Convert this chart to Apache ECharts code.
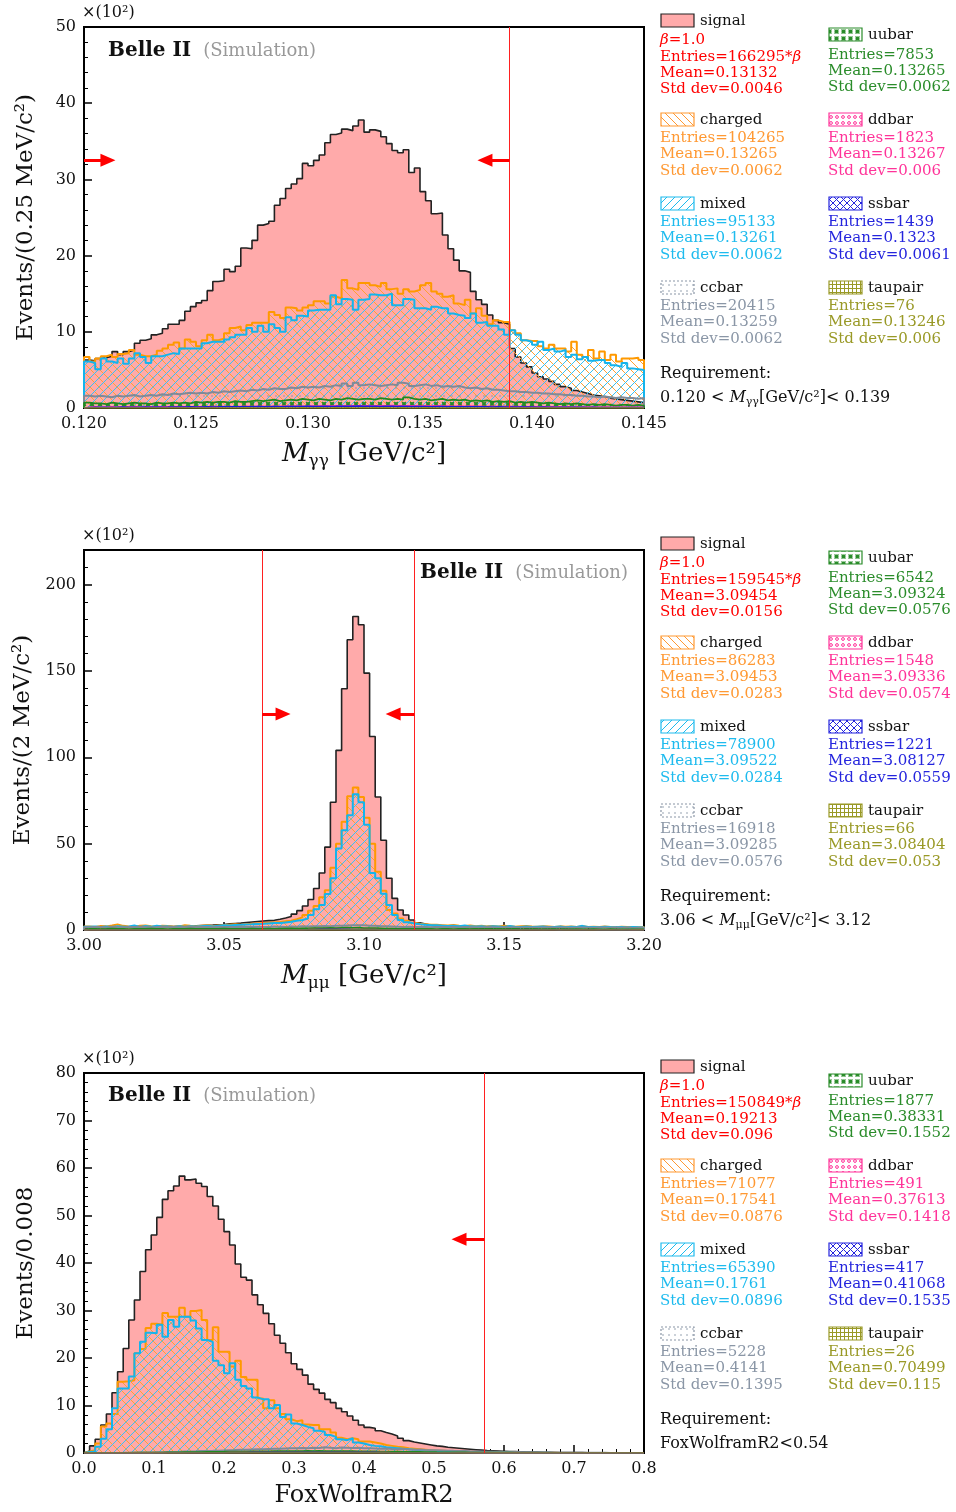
<!DOCTYPE html>
<html><head><meta charset="utf-8">
<script src="https://cdn.jsdelivr.net/npm/echarts@6/dist/echarts.min.js"></script>
<style>html,body{margin:0;padding:0;background:#fff}#c{width:956px;height:1512px}</style>
</head><body><div id="c"></div>
<script>
// ---------------- DATA ----------------
const binStart = [0.120, 3.00, 0.0];
const binWidth = [0.00025, 0.002, 0.008];
const xMin = [0.120, 3.00, 0.0], xMax = [0.145, 3.20, 0.8], xInt = [0.005, 0.05, 0.1], xDec = [3, 2, 1];
const yMax = [50, 220, 80], yInt = [10, 50, 10];

// Panel 1: M_gamma_gamma (x10^2 events / 0.25 MeV)
const signal1 = [6.3,6.2,6.5,6.6,6.8,7.4,7.0,7.4,7.6,8.5, 8.9,9.1,9.6,9.8,10.4,11.0,11.0,11.5,12.7,13.3,
 13.8,14.1,15.4,16.6,16.7,18.2,17.9,18.6,21.0,20.9, 22.0,24.0,24.2,24.5,26.6,27.5,28.8,29.4,30.1,32.1,
 31.8,32.5,33.2,34.8,35.9,36.1,36.6,36.4,37.0,37.8, 36.2,36.5,36.3,35.6,34.7,33.8,33.5,33.9,30.9,31.5,
 28.4,27.2,25.5,25.6,22.7,20.9,19.4,18.0,17.8,15.3, 14.2,13.6,12.2,11.5,11.2,11.0,7.8,6.7,5.9,5.4,
 4.6,4.1,3.8,3.5,3.1,2.8,2.6,2.3,2.1,1.9, 1.7,1.6,1.5,1.3,1.2,1.1,1.0,0.9,0.8,0.7];
const charged1 = [6.7,6.1,6.5,6.8,7.0,6.7,7.1,7.2,7.6,7.0, 6.8,6.8,7.0,7.5,7.8,8.3,8.6,7.8,9.0,8.7,
 8.1,8.9,9.6,8.9,9.1,9.8,10.5,10.7,10.2,10.9, 11.2,11.2,11.2,12.6,12.2,11.8,13.2,13.1,12.8,13.2,
 13.5,14.0,14.0,13.7,14.6,14.4,16.8,15.7,15.5,16.4, 16.4,16.1,15.9,16.4,15.6,15.7,15.0,15.6,15.3,15.5,
 16.1,16.4,15.3,15.0,14.6,14.8,13.7,13.5,14.2,12.4, 13.1,12.1,11.0,11.5,11.3,11.3,10.2,9.8,8.9,8.8,
 8.8,8.1,7.8,8.3,7.8,7.8,7.4,8.7,7.0,6.7, 7.6,6.5,7.4,6.3,7.0,6.1,6.5,6.5,6.6,6.3];
const mixed1 = [6.1,5.9,5.1,6.5,6.1,5.9,6.5,5.8,6.5,7.2, 6.7,5.9,6.8,6.8,7.0,7.2,7.1,7.8,7.8,7.8,
 7.8,8.5,8.7,8.7,8.7,9.0,9.3,9.6,9.6,10.5, 10.0,10.8,10.0,11.0,10.5,10.0,11.9,11.5,12.1,12.0,
 12.8,12.9,12.9,12.9,14.8,13.6,14.3,14.2,12.9,14.2, 14.3,14.9,14.8,14.8,15.0,13.5,13.5,14.3,14.2,13.1,
 13.1,12.9,13.3,13.1,13.1,12.4,12.2,12.1,11.8,12.4, 11.2,11.3,10.8,10.8,10.3,9.6,10.2,9.6,8.9,8.7,
 8.3,8.7,7.6,7.8,7.4,7.6,6.7,7.0,6.4,6.7, 6.2,6.3,6.3,5.9,5.6,5.4,5.9,5.2,5.1,5.0];
const ccbar1 = [1.6,1.5,1.6,1.5,1.4,1.6,1.5,1.6,1.7,1.5, 1.6,1.7,1.6,1.8,1.7,1.9,1.8,1.9,2.0,1.9,
 2.0,1.9,2.1,2.0,2.2,2.1,2.2,2.3,2.2,2.4, 2.3,2.5,2.4,2.6,2.5,2.5,2.7,2.6,2.8,2.7,
 2.8,2.7,2.9,2.8,3.0,2.9,3.2,2.9,3.3,3.0, 3.1,3.0,2.9,3.0,3.1,3.0,3.3,3.2,2.9,3.0,
 3.1,2.9,3.0,2.8,2.9,2.8,2.9,2.7,2.6,2.7, 2.5,2.6,2.4,2.4,2.3,2.2,2.2,2.1,2.1,2.0,
 2.0,1.9,1.9,1.8,1.8,1.7,1.7,1.6,1.6,1.5, 1.5,1.4,1.5,1.4,1.3,1.4,1.3,1.3,1.2,1.3];
const uubar1 = [0.7,0.6,0.6,0.5,0.7,0.6,0.5,0.6,0.7,0.6, 0.6,0.5,0.7,0.6,0.6,0.7,0.6,0.7,0.6,0.8,
 0.7,0.8,0.7,0.8,0.8,0.7,0.9,0.8,0.8,0.9, 1.0,0.9,1.0,1.1,0.9,1.0,1.1,1.0,1.2,1.1,
 1.0,1.2,1.1,1.0,1.2,1.1,1.3,1.2,1.1,1.2, 1.2,1.1,1.3,1.2,1.1,1.2,1.1,1.4,1.2,1.1,
 1.2,1.0,1.1,1.2,1.0,1.1,1.0,1.1,0.9,1.0, 0.9,1.0,0.8,0.9,0.8,0.9,0.7,0.8,0.7,0.8,
 0.7,0.6,0.7,0.6,0.5,0.6,0.5,0.6,0.5,0.4, 0.5,0.4,0.5,0.4,0.3,0.4,0.4,0.3,0.4,0.3];
const ddbar1 = [0.1,0.15,0.1,0.12,0.15,0.1,0.14,0.12,0.15,0.13, 0.14,0.16,0.12,0.15,0.17,0.14,0.16,0.18,0.15,0.17,
 0.16,0.18,0.2,0.17,0.19,0.21,0.18,0.2,0.22,0.2, 0.21,0.23,0.2,0.24,0.22,0.25,0.23,0.26,0.24,0.25,
 0.27,0.25,0.28,0.26,0.3,0.27,0.29,0.31,0.28,0.3, 0.29,0.31,0.28,0.3,0.32,0.29,0.3,0.28,0.31,0.27,
 0.29,0.26,0.28,0.25,0.27,0.24,0.26,0.23,0.25,0.22, 0.23,0.21,0.22,0.2,0.21,0.19,0.2,0.18,0.17,0.18,
 0.16,0.17,0.15,0.16,0.14,0.15,0.13,0.14,0.12,0.13, 0.12,0.11,0.12,0.1,0.11,0.1,0.09,0.1,0.09,0.08];
const ssbar1 = [0.08,0.1,0.09,0.11,0.08,0.1,0.12,0.09,0.11,0.1, 0.12,0.1,0.13,0.11,0.12,0.14,0.12,0.13,0.15,0.13,
 0.14,0.16,0.14,0.15,0.17,0.15,0.16,0.18,0.16,0.17, 0.19,0.17,0.18,0.2,0.18,0.19,0.21,0.19,0.2,0.22,
 0.2,0.21,0.23,0.21,0.22,0.24,0.22,0.23,0.25,0.23, 0.22,0.24,0.21,0.23,0.22,0.2,0.22,0.21,0.19,0.21,
 0.2,0.18,0.2,0.19,0.17,0.18,0.16,0.18,0.17,0.15, 0.16,0.15,0.14,0.15,0.13,0.14,0.13,0.12,0.13,0.12,
 0.11,0.12,0.11,0.1,0.11,0.1,0.09,0.1,0.09,0.08, 0.09,0.08,0.08,0.07,0.08,0.07,0.06,0.07,0.06,0.06];
const taupair1 = [0,0.01,0,0,0.01,0,0,0,0.01,0, 0,0,0.01,0,0.01,0,0,0.01,0,0,
 0.01,0,0,0.01,0,0.01,0,0,0.02,0, 0.01,0,0.01,0,0.02,0.01,0,0.01,0.02,0.01,
 0.01,0.02,0,0.01,0.02,0.01,0.02,0.01,0,0.02, 0.01,0.02,0.01,0.02,0,0.01,0.02,0.01,0.01,0,
 0.02,0.01,0,0.01,0.01,0.02,0,0.01,0,0.01, 0.01,0,0.01,0,0.01,0,0,0.01,0,0.01,
 0,0.01,0,0,0.01,0,0,0.01,0,0, 0.01,0,0,0,0.01,0,0,0,0.01,0];

// Panel 2: M_mumu (x10^2 events / 2 MeV)
const signal2 = [1.2,1.4,1.3,1.5,1.4,1.6,1.5,1.7,1.6,1.8, 1.7,1.9,1.9,2.0,2.1,2.0,2.2,2.3,2.4,2.5,
 2.6,2.7,2.8,3.0,3.1,3.6,3.8,4.0,4.3,4.6, 4.9,5.2,5.4,5.6,6.2,6.9,7.8,9.2,11.2,13.9,
 17.7,24.0,33.0,48.0,74.0,104.0,139.7,168.0,181.5,176.7, 148.7,112.0,77.0,52.0,30.0,18.3,11.6,8.7,5.8,4.2,
 3.4,2.8,2.4,2.1,1.9,1.7,1.6,1.4,1.3,1.2, 1.1,1.1,1.0,0.9,0.9,0.8,0.8,0.7,0.7,0.7,
 0.6,0.6,0.6,0.5,0.5,0.5,0.5,0.4,0.4,0.4, 0.4,0.4,0.3,0.3,0.3,0.3,0.3,0.3,0.2,0.2];
const charged2 = [2.0,1.8,2.3,2.1,2.6,3.2,2.4,2.0,1.9,2.4, 2.6,2.2,2.0,2.5,2.3,1.9,2.1,2.7,2.4,2.2,
 2.5,2.8,2.3,2.6,2.9,3.1,3.3,3.0,3.4,3.6, 3.8,4.0,4.2,4.4,4.6,5.0,5.4,6.2,7.3,8.7,
 11.2,13.9,19.0,23.0,36.0,50.0,62.6,77.5,82.5,77.0, 65.0,50.0,33.7,22.7,11.6,9.6,6.7,5.4,4.2,3.6,
 3.4,3.1,3.0,2.8,2.6,2.9,2.5,2.3,2.6,2.2, 2.4,2.1,2.3,2.0,2.5,2.2,1.9,2.1,2.3,2.0,
 1.9,2.2,2.0,1.8,2.1,1.9,2.0,1.7,2.2,1.8, 1.9,1.7,2.0,1.8,1.6,1.9,1.7,1.8,1.6,1.7];
const mixed2 = [1.9,2.0,1.7,2.1,1.8,2.2,1.9,2.0,2.6,1.8, 2.3,1.9,2.4,2.0,2.1,1.8,2.2,1.9,2.1,2.0,
 2.2,2.4,2.1,2.5,2.7,2.6,2.9,3.0,3.2,3.3, 3.5,3.6,3.8,4.0,4.0,4.4,4.8,5.4,5.8,6.7,
 8.7,12.0,14.5,20.8,29.9,47.2,57.8,66.5,78.6,74.0, 61.0,33.0,30.0,21.0,14.5,8.7,5.8,4.5,3.8,3.3,
 3.0,2.8,2.7,2.5,2.3,2.4,2.2,2.6,2.1,2.0, 2.2,1.9,2.1,2.0,1.8,2.3,1.9,1.7,2.0,1.8,
 1.9,2.0,1.7,1.8,2.0,1.6,1.9,1.8,2.4,1.7, 1.8,1.6,1.9,1.7,1.6,1.8,1.5,1.7,1.6,1.5];
const ccbar2 = [1.6,1.8,1.7,1.5,1.9,1.7,1.6,1.8,1.7,1.9, 1.8,1.6,1.7,1.9,1.8,1.7,1.6,1.8,1.9,1.7,
 1.7,1.8,1.6,1.9,1.7,1.8,1.7,1.9,1.8,1.8, 1.9,1.8,1.7,2.0,1.9,1.8,2.0,1.9,2.1,2.0,
 2.1,2.2,2.3,2.2,2.4,2.5,2.6,2.7,2.8,2.7, 2.5,2.4,2.2,2.1,2.0,1.9,1.8,1.9,1.7,1.8,
 1.7,1.6,1.8,1.7,1.6,1.7,1.5,1.7,1.6,1.6, 1.5,1.7,1.6,1.5,1.6,1.4,1.6,1.5,1.5,1.4,
 1.5,1.4,1.6,1.5,1.4,1.5,1.3,1.5,1.4,1.4, 1.3,1.5,1.4,1.3,1.4,1.3,1.4,1.2,1.3,1.3];
const uubar2 = [0.6,0.7,0.5,0.6,0.8,0.6,0.7,0.5,0.6,0.7, 0.6,0.8,0.7,0.6,0.5,0.7,0.6,0.7,0.8,0.6,
 0.7,0.6,0.7,0.6,0.8,0.7,0.6,0.7,0.6,0.8, 0.7,0.7,0.8,0.7,0.8,0.8,0.9,0.8,0.9,0.9,
 1.0,1.0,1.1,1.2,1.1,1.2,1.3,1.2,1.3,1.1, 1.0,1.0,0.9,0.8,0.8,0.7,0.7,0.6,0.7,0.6,
 0.6,0.7,0.5,0.6,0.6,0.5,0.7,0.6,0.5,0.6, 0.5,0.6,0.5,0.6,0.5,0.5,0.6,0.4,0.5,0.5,
 0.5,0.4,0.5,0.5,0.4,0.5,0.4,0.5,0.4,0.4, 0.5,0.4,0.4,0.5,0.4,0.3,0.4,0.4,0.3,0.4];
const ddbar2 = [0.1,0.15,0.12,0.1,0.18,0.14,0.12,0.16,0.1,0.13, 0.15,0.12,0.14,0.11,0.16,0.13,0.15,0.12,0.14,0.16,
 0.13,0.15,0.14,0.17,0.12,0.15,0.16,0.14,0.13,0.17, 0.15,0.16,0.18,0.15,0.17,0.19,0.18,0.2,0.21,0.22,
 0.24,0.25,0.27,0.28,0.3,0.29,0.31,0.3,0.28,0.26, 0.24,0.22,0.2,0.19,0.18,0.17,0.16,0.15,0.16,0.14,
 0.15,0.13,0.14,0.12,0.15,0.13,0.12,0.14,0.11,0.13, 0.12,0.11,0.13,0.12,0.1,0.12,0.11,0.1,0.12,0.1,
 0.11,0.1,0.12,0.09,0.1,0.11,0.09,0.1,0.08,0.1, 0.09,0.1,0.08,0.09,0.1,0.08,0.09,0.07,0.08,0.09];
const ssbar2 = [0.1,0.12,0.09,0.11,0.13,0.1,0.12,0.08,0.11,0.1, 0.12,0.09,0.11,0.13,0.1,0.12,0.11,0.09,0.12,0.1,
 0.11,0.13,0.1,0.12,0.14,0.11,0.12,0.13,0.12,0.14, 0.13,0.15,0.14,0.16,0.15,0.17,0.16,0.18,0.19,0.2,
 0.21,0.22,0.23,0.22,0.24,0.23,0.22,0.21,0.2,0.19, 0.18,0.17,0.16,0.15,0.14,0.13,0.12,0.13,0.11,0.12,
 0.1,0.11,0.12,0.1,0.09,0.11,0.1,0.12,0.09,0.1, 0.11,0.09,0.1,0.08,0.1,0.09,0.11,0.08,0.09,0.1,
 0.08,0.09,0.1,0.08,0.07,0.09,0.08,0.1,0.07,0.08, 0.09,0.07,0.08,0.06,0.08,0.07,0.08,0.06,0.07,0.07];
const taupair2 = [0.01,0,0,0.01,0,0,0.01,0,0,0, 0.01,0,0,0,0.01,0,0.01,0,0,0.01,
 0,0,0.01,0,0,0.01,0,0.01,0,0, 0.01,0,0.01,0,0.01,0.01,0,0.01,0.01,0.02,
 0.01,0.02,0.01,0.02,0.02,0.01,0.02,0.01,0.02,0.01, 0.01,0.01,0,0.01,0.01,0,0.01,0,0.01,0,
 0.01,0,0,0.01,0,0.01,0,0,0.01,0, 0,0.01,0,0,0.01,0,0,0,0.01,0,
 0,0.01,0,0,0,0.01,0,0,0,0.01, 0,0,0.01,0,0,0,0.01,0,0,0];

// Panel 3: FoxWolframR2 (x10^2 events / 0.008)
const signal3 = [0.4,1.5,2.9,5.9,8.2,12.7,17.1,22.0,28.0,32.2, 38.2,42.8,45.9,49.6,53.4,55.2,56.2,58.3,57.5,57.7,
 56.8,56.1,54.0,52.0,49.2,46.6,43.8,39.8,37.0,36.4, 33.3,31.2,29.4,27.2,24.8,23.1,21.1,18.8,17.6,16.4,
 14.5,13.4,12.6,11.3,10.6,9.4,8.7,7.8,6.9,5.9, 5.4,5.2,4.7,4.3,4.0,3.6,3.1,2.6,2.3,2.1,
 1.9,1.7,1.5,1.4,1.2,1.1,1.0,0.9,0.8,0.7, 0.6,0.5,0.45,0.4,0.35,0.3,0.3,0.25,0.2,0.2,
 0.2,0.15,0.15,0.1,0.1,0.1,0.1,0.08,0.08,0.06, 0.06,0.05,0.05,0.04,0.04,0.03,0.03,0.02,0.02,0.02];
const charged3 = [0.3,0.6,2.0,5.6,6.2,8.2,15.0,15.1,15.3,21.0, 21.9,26.3,27.2,27.0,29.5,28.7,28.7,30.6,28.7,29.9,
 30.1,28.0,23.8,26.5,21.3,21.3,18.2,19.4,16.0,15.4, 15.4,11.5,9.4,11.1,9.4,8.2,7.1,6.7,6.9,6.0,
 5.9,5.9,5.0,5.0,4.3,3.2,2.9,3.1,2.9,2.4, 2.4,2.2,2.0,1.7,1.5,1.3,1.2,1.0,0.9,0.8,
 0.7,0.6,0.5,0.5,0.4,0.3,0.3,0.2,0.2,0.2, 0.15,0.15,0.1,0.1,0.1,0.08,0.08,0.06,0.05,0.05,
 0.04,0.04,0.03,0.03,0.02,0.02,0.02,0.01,0.01,0.01, 0.01,0.01,0.01,0,0,0,0,0,0,0];
const mixed3 = [0.2,0.3,1.3,3.0,5.0,9.4,13.6,13.6,16.1,21.0, 23.4,25.3,25.2,27.0,24.5,28.0,26.6,28.7,28.7,27.9,
 26.2,23.8,23.4,19.4,18.5,16.8,18.9,15.4,14.1,13.6, 11.7,11.3,11.3,9.4,10.1,7.6,8.1,6.2,5.9,5.5,
 5.2,4.7,4.5,3.8,3.4,2.9,2.7,3.1,2.2,2.0, 1.7,1.5,1.4,1.2,1.1,1.0,0.9,0.8,0.7,0.6,
 0.5,0.5,0.4,0.4,0.3,0.3,0.2,0.2,0.2,0.15, 0.15,0.1,0.1,0.1,0.08,0.08,0.06,0.05,0.05,0.04,
 0.04,0.03,0.03,0.02,0.02,0.02,0.01,0.01,0.01,0.01, 0.01,0.01,0,0,0,0,0,0,0,0];
const ccbar3 = [0,0,0,0,0,0.02,0.03,0.05,0.06,0.08, 0.1,0.12,0.15,0.18,0.2,0.22,0.25,0.3,0.32,0.35,
 0.4,0.42,0.45,0.5,0.55,0.6,0.62,0.7,0.68,0.75, 0.8,0.78,0.85,0.9,0.88,0.95,1.0,0.98,1.05,1.0,
 1.1,1.05,1.2,1.1,1.0,1.15,1.1,1.05,1.1,1.0, 1.0,0.95,0.9,0.95,0.85,0.8,0.82,0.75,0.7,0.72,
 0.65,0.6,0.58,0.55,0.5,0.45,0.42,0.4,0.35,0.32, 0.3,0.28,0.25,0.22,0.2,0.18,0.16,0.15,0.13,0.12,
 0.1,0.1,0.08,0.08,0.07,0.06,0.05,0.05,0.04,0.04, 0.03,0.03,0.03,0.02,0.02,0.02,0.02,0.01,0.01,0.01];
const uubar3 = [0,0,0,0.01,0.01,0.02,0.03,0.04,0.05,0.06, 0.07,0.08,0.09,0.1,0.12,0.13,0.14,0.16,0.17,0.19,
 0.2,0.22,0.23,0.25,0.26,0.28,0.29,0.3,0.31,0.33, 0.34,0.35,0.36,0.37,0.38,0.39,0.4,0.41,0.4,0.42,
 0.41,0.42,0.4,0.41,0.39,0.4,0.38,0.37,0.36,0.35, 0.34,0.33,0.31,0.3,0.28,0.27,0.25,0.24,0.22,0.21,
 0.19,0.18,0.16,0.15,0.14,0.13,0.12,0.11,0.1,0.09, 0.08,0.07,0.07,0.06,0.05,0.05,0.04,0.04,0.03,0.03,
 0.03,0.02,0.02,0.02,0.02,0.01,0.01,0.01,0.01,0.01, 0.01,0.01,0.01,0,0,0,0,0,0,0];
const ddbar3 = [0,0,0,0,0,0.01,0.01,0.01,0.02,0.02, 0.02,0.02,0.03,0.03,0.03,0.04,0.04,0.05,0.05,0.05,
 0.06,0.06,0.07,0.07,0.07,0.08,0.08,0.09,0.09,0.09, 0.1,0.1,0.1,0.1,0.11,0.11,0.11,0.11,0.12,0.11,
 0.11,0.12,0.11,0.11,0.1,0.11,0.1,0.1,0.1,0.09, 0.09,0.09,0.08,0.08,0.07,0.07,0.07,0.06,0.06,0.05,
 0.05,0.05,0.04,0.04,0.04,0.03,0.03,0.03,0.03,0.02, 0.02,0.02,0.02,0.02,0.01,0.01,0.01,0.01,0.01,0.01,
 0.01,0.01,0.01,0,0.01,0,0,0,0,0, 0,0,0,0,0,0,0,0,0,0];
const ssbar3 = [0,0,0,0,0,0,0.01,0.01,0.01,0.01, 0.02,0.02,0.02,0.02,0.03,0.03,0.03,0.04,0.04,0.04,
 0.05,0.05,0.05,0.06,0.06,0.06,0.07,0.07,0.07,0.08, 0.08,0.08,0.09,0.09,0.09,0.09,0.1,0.1,0.1,0.1,
 0.1,0.1,0.1,0.1,0.1,0.09,0.09,0.09,0.09,0.08, 0.08,0.08,0.07,0.07,0.07,0.06,0.06,0.06,0.05,0.05,
 0.05,0.04,0.04,0.04,0.03,0.03,0.03,0.03,0.02,0.02, 0.02,0.02,0.02,0.01,0.01,0.01,0.01,0.01,0.01,0.01,
 0.01,0.01,0,0.01,0,0,0,0,0,0, 0,0,0,0,0,0,0,0,0,0];
const taupair3 = [0,0,0,0,0,0,0,0,0,0, 0,0,0,0,0,0,0,0,0,0,
 0,0,0,0,0,0,0,0,0,0, 0,0,0,0,0,0,0,0,0,0,
 0,0,0,0,0,0,0,0,0,0, 0,0,0,0,0,0,0,0,0.01,0,
 0,0,0.01,0,0,0.01,0,0,0.01,0, 0.01,0,0.01,0.01,0,0.01,0.01,0.02,0.01,0.01,
 0.02,0.01,0.01,0.02,0.01,0.01,0.01,0.01,0.02,0.01, 0.01,0.01,0,0.01,0.01,0,0.01,0,0,0];

// Legend statistics
const compNames = ['signal','charged','mixed','ccbar','uubar','ddbar','ssbar','taupair'];
const entries1 = ['166295*β','104265','95133','20415','7853','1823','1439','76'];
const means1 = ['0.13132','0.13265','0.13261','0.13259','0.13265','0.13267','0.1323','0.13246'];
const stds1 = ['0.0046','0.0062','0.0062','0.0062','0.0062','0.006','0.0061','0.006'];
const entries2 = ['159545*β','86283','78900','16918','6542','1548','1221','66'];
const means2 = ['3.09454','3.09453','3.09522','3.09285','3.09324','3.09336','3.08127','3.08404'];
const stds2 = ['0.0156','0.0283','0.0284','0.0576','0.0576','0.0574','0.0559','0.053'];
const entries3 = ['150849*β','71077','65390','5228','1877','491','417','26'];
const means3 = ['0.19213','0.17541','0.1761','0.4141','0.38331','0.37613','0.41068','0.70499'];
const stds3 = ['0.096','0.0876','0.0896','0.1395','0.1552','0.1418','0.1535','0.115'];

// Cuts and arrows (x positions of cut lines, arrow start/tip x, arrow y level)
const cuts1 = [0.139], arrows1 = [[0.120, 0.12107], [0.139, 0.13790]], arrowY1 = 32.5;
const cuts2 = [3.0636, 3.118], arrows2 = [[3.0636, 3.0711], [3.118, 3.1104]], arrowY2 = 125;
const cuts3 = [0.572], arrows3 = [[0.572, 0.5357]], arrowY3 = 45;

// ---------------- STYLE ----------------
const FF = "'DejaVu Serif', serif";
const colors = ['#ff0000','#ff9933','#1ebbee','#8a96a6','#2a8c2a','#ff3399','#2424dd','#999926'];
const lineColors = ['#222222','#ff9900','#14b4ec','#7f8a98','#1f8a1f','#ff3399','#1a1ae0','#8f8f1f'];
const lineWidths = [1.6, 2, 2, 2, 1.8, 1.5, 1.5, 1.5];

function cv(size){const c=document.createElement('canvas');c.width=c.height=size;return c;}
function hatch(color, dir, size, lw, bg){
  const c=cv(size), g=c.getContext('2d');
  if(bg){g.fillStyle=bg;g.fillRect(0,0,size,size);}
  g.strokeStyle=color; g.lineWidth=lw; g.beginPath();
  for(const k of [-size,0,size]){
    if(dir==='/'){g.moveTo(k,size);g.lineTo(k+size,0);} else {g.moveTo(k,0);g.lineTo(k+size,size);}
  }
  g.stroke(); return c;
}
function cross(color,size,lw,bg){
  const c=cv(size), g=c.getContext('2d');
  if(bg){g.fillStyle=bg;g.fillRect(0,0,size,size);}
  g.strokeStyle=color; g.lineWidth=lw; g.beginPath();
  for(const k of [-size,0,size]){g.moveTo(k,size);g.lineTo(k+size,0);g.moveTo(k,0);g.lineTo(k+size,size);}
  g.stroke(); return c;
}
function dots(color,size,r,bg){
  const c=cv(size), g=c.getContext('2d');
  if(bg){g.fillStyle=bg;g.fillRect(0,0,size,size);}
  g.fillStyle=color; g.beginPath(); g.arc(size/2,size/2,r,0,Math.PI*2); g.fill(); return c;
}
function rings(color,size,r,bg){
  const c=cv(size), g=c.getContext('2d');
  if(bg){g.fillStyle=bg;g.fillRect(0,0,size,size);}
  g.strokeStyle=color; g.lineWidth=1; g.beginPath(); g.arc(size/2,size/2,r,0,Math.PI*2); g.stroke(); return c;
}
function stars(color,size,bg){
  const c=cv(size), g=c.getContext('2d');
  if(bg){g.fillStyle=bg;g.fillRect(0,0,size,size);}
  g.strokeStyle=color; g.lineWidth=1.2; const m=size/2, a=2;
  g.beginPath(); g.moveTo(m-a,m);g.lineTo(m+a,m);g.moveTo(m,m-a);g.lineTo(m,m+a);
  g.moveTo(m-a,m-a);g.lineTo(m+a,m+a);g.moveTo(m-a,m+a);g.lineTo(m+a,m-a); g.stroke(); return c;
}
function gridPat(color,size,bg){
  const c=cv(size), g=c.getContext('2d');
  if(bg){g.fillStyle=bg;g.fillRect(0,0,size,size);}
  g.strokeStyle=color; g.lineWidth=1; g.beginPath();
  g.moveTo(0.5,0);g.lineTo(0.5,size);g.moveTo(0,0.5);g.lineTo(size,0.5); g.stroke(); return c;
}
const pat = c => ({image:c, repeat:'repeat'});

const plotFills = [
  '#ffaaaa',
  pat(hatch('#ffa033','\\',9,1)),
  pat(hatch('#3cc0ee','/',9,1)),
  pat(dots('#8a96a6',8,0.8)),
  pat(stars('#2a8c2a',8)),
  pat(rings('#ff3399',7,1.5)),
  pat(cross('#2424dd',7,1)),
  pat(gridPat('#999926',5))
];
const swFills = [
  '#ffaaaa',
  pat(hatch('#ff9933','\\',8,1,'#fff')),
  pat(hatch('#1ebbee','/',8,1,'#fff')),
  pat(dots('#8a96a6',6,0.8,'#fff')),
  pat(stars('#2a8c2a',7,'#fff')),
  pat(rings('#ff3399',6,1.4,'#fff')),
  pat(cross('#2424dd',7,1,'#fff')),
  pat(gridPat('#999926',4,'#fff'))
];

// ---------------- BUILD ----------------
function stepData(vals, start, w){
  const n = vals.length, d = [[start,0]];
  vals.forEach((v,i)=>d.push([start+i*w, v]));
  d.push([start+n*w, vals[n-1]]); d.push([start+n*w, 0]);
  return d;
}
const panelData = [
  [signal1,charged1,mixed1,ccbar1,uubar1,ddbar1,ssbar1,taupair1],
  [signal2,charged2,mixed2,ccbar2,uubar2,ddbar2,ssbar2,taupair2],
  [signal3,charged3,mixed3,ccbar3,uubar3,ddbar3,ssbar3,taupair3]
];
const panelCuts = [cuts1,cuts2,cuts3], panelArrows=[arrows1,arrows2,arrows3], panelArrowY=[arrowY1,arrowY2,arrowY3];

const series = [];
panelData.forEach((arrs, p)=>{
  arrs.forEach((vals, k)=>{
    const s = {
      type:'line', name: compNames[k]+p, xAxisIndex:p, yAxisIndex:p,
      data: stepData(vals, binStart[p], binWidth[p]), step:'end', symbol:'none',
      silent:true, animation:false, z: 2+k,
      lineStyle:{color: lineColors[k], width: lineWidths[k]},
      areaStyle:{color: plotFills[k], opacity:1, origin:'start'}
    };
    if(k===0){
      const ml = [];
      panelCuts[p].forEach(c=>ml.push({xAxis:c, symbol:'none', lineStyle:{color:'#ff2020', width:1, type:'solid'}}));
      panelArrows[p].forEach(a=>ml.push([
        {coord:[a[0], panelArrowY[p]], symbol:'none', lineStyle:{color:'#ff0000', width:3, type:'solid'}},
        {coord:[a[1], panelArrowY[p]], symbol:'triangle', symbolSize:[13,15]}
      ]));
      s.markLine = {silent:true, animation:false, precision:8, label:{show:false}, symbol:['none','none'],
        itemStyle:{color:'#cc0000'}, lineStyle:{color:'#ff0000', width:3, type:'solid'}, data: ml, z: 20};
    }
    series.push(s);
  });
});

const grids = [
  {left:84, top:27, width:560, height:381},
  {left:84, top:550, width:560, height:380},
  {left:84, top:1073, width:560, height:380}
].map(g=>Object.assign(g,{show:true, borderColor:'#000', borderWidth:2, backgroundColor:'transparent', containLabel:false}));

const xNames = ['{it|M}{sub|γγ} [GeV/c²]','{it|M}{sub|μμ} [GeV/c²]','FoxWolframR2'];
const yNames = ['Events/(0.25 MeV/c²)','Events/(2 MeV/c²)','Events/0.008'];

const axisCommon = {
  axisLine:{show:true, onZero:false, lineStyle:{color:'#000', width:2}},
  axisTick:{show:true, inside:true, length:8, lineStyle:{color:'#000', width:1.5}},
  minorTick:{show:true, splitNumber:5, length:4, lineStyle:{color:'#000', width:1}},
  splitLine:{show:false}
};
const xAxes = [0,1,2].map(p=>Object.assign({}, axisCommon, {
  type:'value', gridIndex:p, min:xMin[p], max:xMax[p], interval:xInt[p],
  axisLabel:{formatter:v=>v.toFixed(xDec[p]), fontFamily:FF, fontSize:16, color:'#111', margin:8},
  name:xNames[p], nameLocation:'middle', nameGap:31,
  nameTextStyle:{fontFamily:FF, fontSize:p===2?24:26, color:'#111',
    rich:{it:{fontStyle:'italic', fontFamily:FF, fontSize:26, color:'#111'},
          sub:{fontFamily:FF, fontSize:17, color:'#111', padding:[14,0,0,0]}}}
}));
const yAxes = [0,1,2].map(p=>Object.assign({}, axisCommon, {
  type:'value', gridIndex:p, min:0, max:yMax[p], interval:yInt[p],
  axisLabel:{fontFamily:FF, fontSize:16, color:'#111', margin:8, showMaxLabel: p!==1},
  name:yNames[p], nameLocation:'middle', nameGap:46,
  nameTextStyle:{fontFamily:FF, fontSize:23, color:'#111'}
}));

const graphic = [];
const gTop = [27, 550, 1073];
const bellePos = [[108,51],[420,573],[108,1096]];
[0,1,2].forEach(p=>{
  graphic.push({type:'text', x:82, y:gTop[p]-14, z:100, silent:true,
    style:{text:'×(10²)', fontFamily:FF, fontSize:16, fill:'#111', verticalAlign:'middle'}});
  graphic.push({type:'text', x:bellePos[p][0], y:bellePos[p][1], z:100, silent:true,
    style:{text:'{b|Belle II}{s|(Simulation)}', verticalAlign:'middle',
      rich:{b:{fontFamily:FF, fontWeight:'bold', fontSize:20, fill:'#111'},
            s:{fontFamily:FF, fontSize:18, fill:'#999999', padding:[0,0,0,12]}}}});
});

const statsByPanel = [[entries1,means1,stds1],[entries2,means2,stds2],[entries3,means3,stds3]];
const reqTexts = [
  '0.120 < {it|M}{sub|γγ}[GeV/c²]< 0.139',
  '3.06 < {it|M}{sub|μμ}[GeV/c²]< 3.12',
  'FoxWolframR2<0.54'
];
const legendDy = [0, 523, 1046];
function txt(x,y,text,fill,size,rich){
  return {type:'text', x, y, z:100, silent:true,
    style:{text, fill, fontFamily:FF, fontSize:size||15, verticalAlign:'middle', rich: rich||{}}};
}
const itRich = c => ({it:{fontStyle:'italic', fontFamily:FF, fontSize:15, fill:c}});
[0,1,2].forEach(p=>{
  const dy = legendDy[p], [en, me, sd] = statsByPanel[p];
  const nameY = [21,120,204,288, 35,120,204,288];
  for(let k=0;k<8;k++){
    const col = k<4?0:1, x0 = col===0?661:829, y = nameY[k]+dy;
    graphic.push({type:'rect', z:100, silent:true, shape:{x:x0, y:y-7, width:33, height:13},
      style:{fill: swFills[k], stroke: k===0?'#222':colors[k], lineWidth:1.2, lineDash: k===3?[2,2]:null}});
    graphic.push(txt(x0+39, y, compNames[k], '#111', 15));
    const c = colors[k];
    let offs;
    if(k===0){
      graphic.push(txt(x0-1, y+19, '{it|β}=1.0', c, 15, itRich(c)));
      offs = [36,52,68];
    } else if(k===4){ offs=[20,36,52]; } else { offs=[18,34,51]; }
    graphic.push(txt(x0-1, y+offs[0], 'Entries='+en[k].replace('β','{it|β}'), c, 15, itRich(c)));
    graphic.push(txt(x0-1, y+offs[1], 'Mean='+me[k], c, 15));
    graphic.push(txt(x0-1, y+offs[2], 'Std dev='+sd[k], c, 15));
  }
  graphic.push(txt(660, 374+dy, 'Requirement:', '#111', 16));
  graphic.push(txt(660, 398+dy, reqTexts[p], '#111', 16,
    {it:{fontStyle:'italic', fontFamily:FF, fontSize:16, fill:'#111'},
     sub:{fontFamily:FF, fontSize:11, fill:'#111', padding:[9,0,0,0]}}));
});

const chart = echarts.init(document.getElementById('c'), null, {renderer:'canvas'});
chart.setOption({
  backgroundColor:'#ffffff', animation:false,
  grid: grids, xAxis: xAxes, yAxis: yAxes, series, graphic
});
</script></body></html>
